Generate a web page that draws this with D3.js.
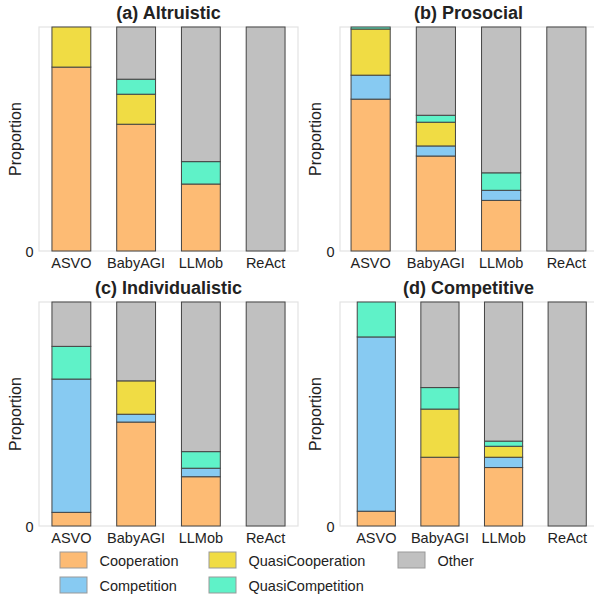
<!DOCTYPE html>
<html>
<head>
<meta charset="utf-8">
<script src="https://cdn.jsdelivr.net/npm/d3@7"></script>
<style>
  body { margin: 0; background: #fff; }
  text { font-family: "Liberation Sans", Arial, sans-serif; fill: #222; }
</style>
</head>
<body>
<div id="chart"></div>
<script>
// Categories and series
const agents = ["ASVO", "BabyAGI", "LLMob", "ReAct"];
const outcomes = ["Cooperation", "Competition", "QuasiCooperation", "QuasiCompetition", "Other"];
const colors = ["#fdbb74", "#87caf2", "#f0dc44", "#5ff2c8", "#c0c0c0"];

// proportions per agent, order as in outcomes
const altruistic = [
  [0.821, 0, 0.179, 0, 0],
  [0.566, 0, 0.134, 0.067, 0.233],
  [0.299, 0, 0, 0.100, 0.601],
  [0, 0, 0, 0, 1]
];
const prosocial = [
  [0.678, 0.107, 0.206, 0.009, 0],
  [0.424, 0.045, 0.106, 0.031, 0.394],
  [0.226, 0.045, 0, 0.078, 0.651],
  [0, 0, 0, 0, 1]
];
const individualistic = [
  [0.061, 0.595, 0, 0.146, 0.198],
  [0.464, 0.035, 0.149, 0, 0.352],
  [0.220, 0.038, 0, 0.074, 0.668],
  [0, 0, 0, 0, 1]
];
const competitive = [
  [0.066, 0.778, 0, 0.156, 0],
  [0.307, 0, 0.215, 0.096, 0.382],
  [0.261, 0.046, 0.049, 0.023, 0.621],
  [0, 0, 0, 0, 1]
];

const panels = [
  { title: "(a) Altruistic", data: altruistic, frame: [39, 298], bars: [39, 298], top: 27, bottom: 251, tx: 0 },
  { title: "(b) Prosocial", data: prosocial, frame: [340, 599], bars: [338, 599], top: 27, bottom: 251, tx: 297 },
  { title: "(c) Individualistic", data: individualistic, frame: [39, 298], bars: [39, 298], top: 302, bottom: 526, tx: 0 },
  { title: "(d) Competitive", data: competitive, frame: [340, 599], bars: [344.5, 599], top: 302, bottom: 526, tx: 297 }
];

const svg = d3.select("#chart").append("svg")
  .attr("width", 594)
  .attr("height", 600);

const stack = d3.stack().keys(d3.range(outcomes.length));

panels.forEach(p => {
  const x = d3.scaleBand().domain(agents).range(p.bars).paddingInner(0.4).paddingOuter(0.2);
  const y = d3.scaleLinear().domain([0, 1]).range([p.bottom, p.top]);
  const g = svg.append("g");

  // frame
  g.append("rect")
    .attr("x", p.frame[0]).attr("y", p.top)
    .attr("width", p.frame[1] - p.frame[0]).attr("height", p.bottom - p.top)
    .attr("fill", "none").attr("stroke", "#e3e3e3").attr("stroke-width", 1.2);

  const series = stack(p.data);
  g.selectAll(".layer")
    .data(series)
    .join("g")
    .attr("fill", (d, i) => colors[i])
    .selectAll("rect")
    .data(d => d.map((v, j) => ({ v, agent: agents[j] })).filter(e => e.v[1] - e.v[0] > 0))
    .join("rect")
    .attr("x", d => x(d.agent))
    .attr("width", x.bandwidth())
    .attr("y", d => y(d.v[1]))
    .attr("height", d => y(d.v[0]) - y(d.v[1]))
    .attr("stroke", "#444")
    .attr("stroke-width", 1);

  // x labels
  g.selectAll(".xl")
    .data(agents)
    .join("text")
    .attr("x", d => x(d) + x.bandwidth() / 2)
    .attr("y", p.bottom + 16.5)
    .attr("text-anchor", "middle")
    .attr("font-size", 14.5)
    .text(d => d);

  // y tick
  g.append("text")
    .attr("x", p.frame[0] - 5.5)
    .attr("y", p.bottom + 5.5)
    .attr("text-anchor", "end")
    .attr("font-size", 14.5)
    .text("0");

  g.append("text")
    .attr("transform", `translate(${p.tx + (p.tx ? 23.5 : 21)},${(p.top + p.bottom) / 2}) rotate(-90)`)
    .attr("text-anchor", "middle")
    .attr("font-size", 16)
    .text("Proportion");

  g.append("text")
    .attr("x", p.tx + 168.5 + (p.tx ? 3 : 0))
    .attr("y", p.top - 8)
    .attr("text-anchor", "middle")
    .attr("font-size", 18)
    .attr("font-weight", "bold")
    .text(p.title);
});

// legend
const legendOrder = [0, 2, 4, 1, 3];
const legendCols = [60, 209, 398];
const legend = svg.append("g");
legendOrder.forEach((k, i) => {
  const cx = legendCols[i % 3];
  const cy = i < 3 ? 552 : 577;
  legend.append("rect")
    .attr("x", cx).attr("y", cy)
    .attr("width", 27).attr("height", 16)
    .attr("fill", colors[k]).attr("stroke", "#999").attr("stroke-width", 1);
  legend.append("text")
    .attr("x", cx + 39.5).attr("y", cy + 14)
    .attr("font-size", 14.5)
    .text(outcomes[k]);
});
</script>
</body>
</html>
